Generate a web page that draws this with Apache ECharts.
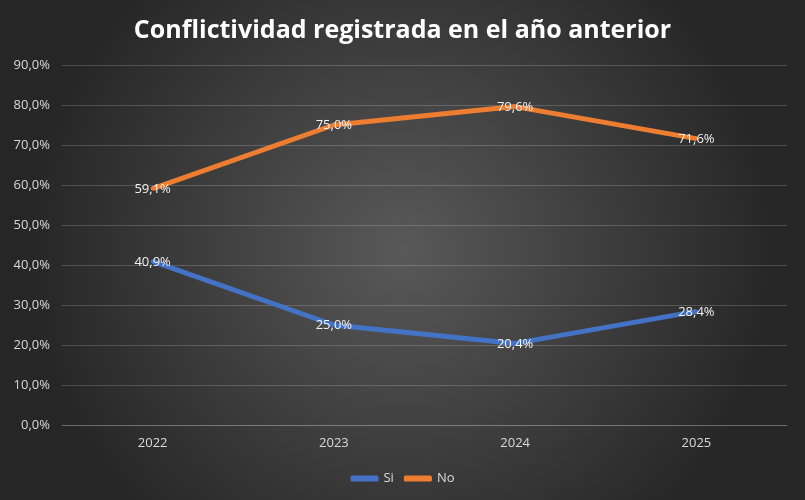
<!DOCTYPE html>
<html>
<head>
<meta charset="utf-8">
<script src="https://cdn.jsdelivr.net/npm/echarts@6/dist/echarts.min.js"></script>
<style>
  html, body { margin: 0; padding: 0; background: #333; }
  #main { width: 805px; height: 500px; }
</style>
</head>
<body>
<div id="main"></div>
<script>
// datos del gráfico
const years = ["2022", "2023", "2024", "2025"];
const si = [40.9, 25.0, 20.4, 28.4];
const no = [59.1, 75.0, 79.6, 71.6];

const pct = (v) => v.toFixed(1).replace(".", ",") + "%";

const myChart = echarts.init(document.getElementById("main"));

const lineSeries = (name, values, color) => ({
  name: name,
  type: "line",
  data: values,
  symbol: "circle",
  symbolSize: 4,
  showSymbol: true,
  lineStyle: { color: color, width: 5 },
  itemStyle: { color: color },
  label: {
    show: true,
    position: "top",
    distance: -9,
    color: "#f2f2f2",
    fontFamily: "Open Sans",
    fontSize: 13,
    formatter: (p) => pct(p.value),
  },
});

const option = {
  backgroundColor: {
    type: "radial",
    x: 0.5,
    y: 0.5,
    r: 0.75,
    colorStops: [
      { offset: 0, color: "#595959" },
      { offset: 1, color: "#262626" },
    ],
  },
  title: {
    text: "Conflictividad registrada en el año anterior",
    left: "center",
    top: 13,
    textStyle: {
      color: "#ffffff",
      fontFamily: "Open Sans",
      fontWeight: "bold",
      fontSize: 25,
    },
  },
  legend: {
    bottom: 10,
    itemWidth: 28,
    itemHeight: 6,
    itemGap: 10,
    icon: "roundRect",
    textStyle: { color: "#d9d9d9", fontFamily: "Open Sans", fontSize: 13 },
    data: ["Si", "No"],
  },
  grid: { left: 62, right: 18, top: 65, bottom: 75 },
  xAxis: {
    type: "category",
    data: years,
    axisLine: { show: true, lineStyle: { color: "rgba(255,255,255,0.18)" } },
    axisTick: { show: false },
    axisLabel: { color: "#d9d9d9", fontFamily: "Open Sans", fontSize: 13, margin: 12 },
  },
  yAxis: {
    type: "value",
    min: 0,
    max: 90,
    interval: 10,
    axisLine: { show: false },
    axisTick: { show: false },
    axisLabel: {
      color: "#d9d9d9",
      fontFamily: "Open Sans",
      fontSize: 13,
      margin: 12,
      formatter: (v) => pct(v),
    },
    splitLine: { lineStyle: { color: "rgba(255,255,255,0.18)" } },
  },
  series: [lineSeries("Si", si, "#4472C4"), lineSeries("No", no, "#ED7D31")],
};

myChart.setOption(option);
</script>
</body>
</html>
